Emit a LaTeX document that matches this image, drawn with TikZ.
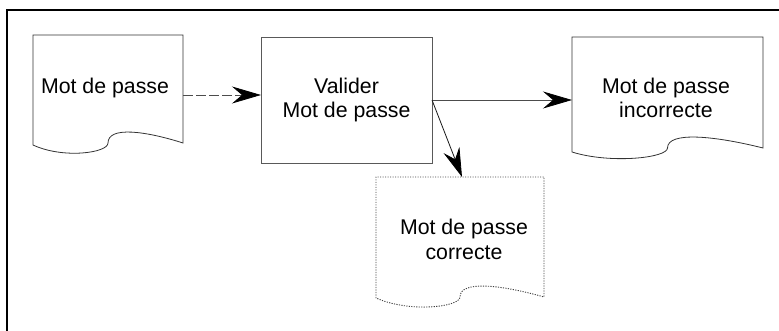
\documentclass[tikz,border=0pt]{standalone}
\usepackage{fontspec}
\setmainfont{Liberation Sans}
\usetikzlibrary{arrows.meta}

% Outline of a "document" symbol: straight top and sides, wavy bottom edge.
% #1 style, #2 left, #3 top, #4 right, #5 bottom of the right side, #6 extra drop of the left corner
\newcommand\paperoutline[6]{%
  \pgfmathsetmacro\pw{#4-#2}%
  \draw[#1] (#2,#5+#6) -- (#2,#3) -- (#4,#3) -- (#4,#5)
    .. controls ({#2+0.75*\pw},{#5-12}) and ({#2+0.5*\pw},{#5-17}) .. ({#2+0.5*\pw},{#5})
    .. controls ({#2+0.5*\pw},{#5+10}) and ({#2+0.2*\pw},{#5+16}) .. cycle;
}

\tikzset{
  area/.style={inner sep=0pt, outer sep=0pt, minimum width=#1},
  txt/.style={font=\fontsize{21.3}{24.5}\selectfont, align=center, anchor=base, inner sep=0pt},
  solidline/.style={draw=black!80, line width=0.8pt},
  dotline/.style={draw=black!75, line width=0.9pt, dash pattern=on 1.2pt off 1.3pt},
  boxline/.style={draw=black!65, line width=0.9pt},
  framebar/.style={draw=black, line width=2pt},
  head/.style={-{Stealth[length=29pt,width=17pt,inset=10pt,color=black,fill=black]}},
  flow/.style={head, draw=black!70, line width=0.8pt},
  dashflow/.style={flow, dash pattern=on 10pt off 3pt},
}

\begin{document}
\begin{tikzpicture}[x=1pt, y=-1pt]
  \useasboundingbox (0,0) rectangle (779,331);

  % outer frame (top and left bars)
  \coordinate (fTL) at (7,10);
  \coordinate (fTR) at (781,10);
  \coordinate (fBL) at (7,333);
  \draw[framebar] (fTR) -- (fTL) -- (fBL);

  % shapes
  \paperoutline{solidline}{33}{35}{183}{143}{2}
  \node[area=150pt, minimum height=108pt] (pwd) at (108,89) {};

  \draw[boxline] (261,37) rectangle (432,163);
  \node[area=171pt, minimum height=126pt] (check) at (346.5,100) {};

  \paperoutline{solidline}{572}{37}{763}{148}{4}
  \node[area=191pt, minimum height=111pt] (bad) at (667.5,92.5) {};

  \paperoutline{dotline}{376}{177}{544}{297}{1}
  \node[area=168pt, minimum height=120pt] (good) at (460,237) {};

  % labels (base anchor sits on the last line)
  \node[txt] (tpwd) at (105,94) {Mot de passe};
  \node[txt] (tcheck) at (346.5,118) {Valider\\Mot de passe};
  \node[txt] (tbad) at (666,118) {Mot de passe\\incorrecte};
  \node[txt] (tgood) at (464,259) {Mot de passe\\correcte};

  % flows
  \coordinate (a1) at (0,95);
  \draw[dashflow] (pwd.east |- a1) -- (check.west |- a1);
  \draw[flow] (check.east) -- (bad.west |- check.east);
  \draw[flow, draw=black!90] (check.east) -- ([xshift=2pt]good.north);
\end{tikzpicture}
\end{document}
